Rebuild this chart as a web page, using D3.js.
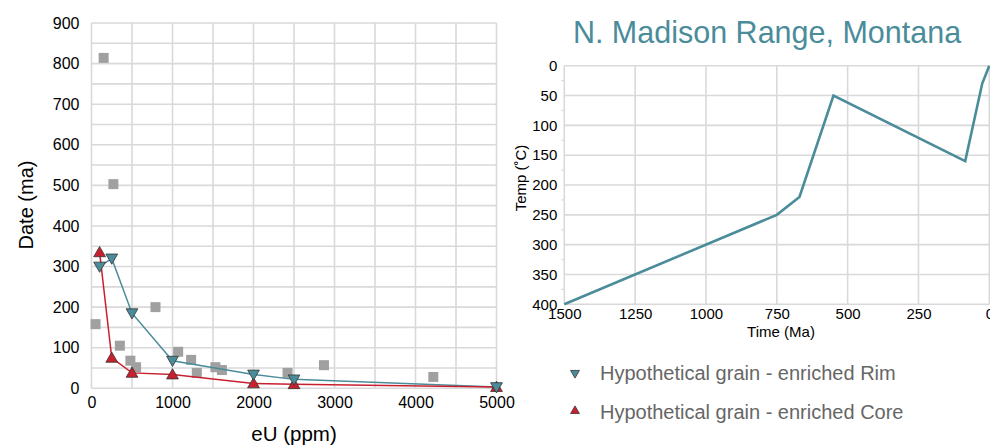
<!DOCTYPE html>
<html><head><meta charset="utf-8">
<script src="https://cdn.jsdelivr.net/npm/d3@7"></script>
<style>
html,body{margin:0;padding:0;background:#fff;}
svg{display:block;font-family:"Liberation Sans",Arial,sans-serif;}
</style></head>
<body>
<svg id="c" width="990" height="445"></svg>
<script>
// ---------- data ----------
const measuredEU   = [50, 150, 270, 350, 480, 550, 790, 1070, 1230, 1300, 1530, 1610, 2420, 2870, 4220];
const measuredDate = [158, 814, 503, 105, 68, 52, 200, 90, 70, 38, 52, 45, 38, 57, 28];
const rimEU   = [100, 250, 500, 1000, 2000, 2500, 5000];
const rimDate = [300, 320, 185, 68, 34, 22, 3];
const coreEU   = [100, 250, 500, 1000, 2000, 2500, 5000];
const coreDate = [335, 75, 38, 34, 12, 10, 3];
const leftXTicks = [0, 1000, 2000, 3000, 4000, 5000];
const leftYTicks = [0, 100, 200, 300, 400, 500, 600, 700, 800, 900];

const pathTime = [1500, 750, 670, 550, 85, 25, 0];
const pathTemp = [400, 250, 220, 50, 160, 30, 0];
const rightXTicks = [1500, 1250, 1000, 750, 500, 250, 0];
const rightYTicks = [0, 50, 100, 150, 200, 250, 300, 350, 400];

const titleText = "N. Madison Range, Montana";
const legendLabels = ["Hypothetical grain - enriched Rim", "Hypothetical grain - enriched Core"];

// ---------- styles ----------
const TEAL = "#4a8c9a", RED = "#c8202f", GRAY = "#a0a0a0", GRID = "#d9d9d9";
const FONT = "Liberation Sans, Arial, sans-serif";
const svg = d3.select("#c");

// ---------- left chart ----------
const lx = d3.scaleLinear().domain([0, 5000]).range([91.5, 496.5]);
const ly = d3.scaleLinear().domain([0, 900]).range([388.3, 23]);
const L = svg.append("g");

L.append("g").selectAll("line").data(d3.range(0, 5001, 500)).join("line")
  .attr("x1", d => lx(d)).attr("x2", d => lx(d)).attr("y1", ly(0)).attr("y2", ly(900))
  .attr("stroke", GRID).attr("stroke-width", 1.6);
L.append("g").selectAll("line").data(d3.range(0, 901, 50)).join("line")
  .attr("y1", d => ly(d)).attr("y2", d => ly(d)).attr("x1", lx(0)).attr("x2", lx(5000))
  .attr("stroke", GRID).attr("stroke-width", 1.6);

const lxAxis = L.append("g").attr("transform", `translate(0,${ly(0)})`)
  .call(d3.axisBottom(lx).tickValues(leftXTicks).tickSize(0).tickPadding(6).tickFormat(d3.format("d")));
lxAxis.select(".domain").remove();
lxAxis.selectAll("text").attr("font-size", 16).attr("fill", "#000").attr("dy", "0.85em")
  .attr("font-family", FONT);

const lyAxis = L.append("g").attr("transform", `translate(${lx(0)},0)`)
  .call(d3.axisLeft(ly).tickValues(leftYTicks).tickSize(0).tickPadding(12).tickFormat(d3.format("d")));
lyAxis.select(".domain").remove();
lyAxis.selectAll("text").attr("font-size", 16).attr("fill", "#000").attr("font-family", FONT);

L.append("text").attr("transform", `translate(33,205) rotate(-90)`).attr("text-anchor", "middle")
  .attr("font-size", 20).attr("fill", "#000").text("Date (ma)");
L.append("text").attr("x", 294).attr("y", 441).attr("text-anchor", "middle")
  .attr("font-size", 20.5).attr("fill", "#000").text("eU (ppm)");

// measured squares
L.append("g").selectAll("rect").data(measuredEU.map((e, i) => [e, measuredDate[i]])).join("rect")
  .attr("x", d => lx(d[0]) - 5).attr("y", d => ly(d[1]) - 5).attr("width", 10).attr("height", 10)
  .attr("fill", GRAY);

const line = d3.line().x(d => lx(d[0])).y(d => ly(d[1]));
const rim = rimEU.map((e, i) => [e, rimDate[i]]);
const core = coreEU.map((e, i) => [e, coreDate[i]]);
L.append("path").attr("d", line(rim)).attr("fill", "none").attr("stroke", TEAL).attr("stroke-width", 1.5);
L.append("path").attr("d", line(core)).attr("fill", "none").attr("stroke", RED).attr("stroke-width", 1.5);

const tri = d3.symbol().type(d3.symbolTriangle).size(60);
L.append("g").selectAll("path").data(core).join("path")
  .attr("d", tri).attr("transform", d => `translate(${lx(d[0])},${ly(d[1]) + 1})`)
  .attr("fill", RED).attr("stroke", "#333").attr("stroke-width", 0.8);
L.append("g").selectAll("path").data(rim).join("path")
  .attr("d", tri).attr("transform", d => `translate(${lx(d[0])},${ly(d[1]) - 1}) rotate(180)`)
  .attr("fill", TEAL).attr("stroke", "#333").attr("stroke-width", 0.8);

// ---------- right chart ----------
const rx = d3.scaleLinear().domain([1500, 0]).range([564.3, 989.3]);
const ry = d3.scaleLinear().domain([0, 400]).range([65.7, 304.3]);
const R = svg.append("g");

R.append("text").attr("x", 767).attr("y", 43).attr("text-anchor", "middle")
  .attr("font-size", 30.5).attr("fill", TEAL).text(titleText);

R.append("g").selectAll("line").data(rightXTicks).join("line")
  .attr("x1", d => rx(d)).attr("x2", d => rx(d)).attr("y1", ry(0)).attr("y2", ry(400))
  .attr("stroke", GRID).attr("stroke-width", 1.6);
R.append("g").selectAll("line").data(rightYTicks).join("line")
  .attr("y1", d => ry(d)).attr("y2", d => ry(d)).attr("x1", rx(1500)).attr("x2", rx(0))
  .attr("stroke", GRID).attr("stroke-width", 1.6);
// minor ticks
R.append("g").selectAll("line").data(d3.range(25, 400, 50)).join("line")
  .attr("y1", d => ry(d)).attr("y2", d => ry(d)).attr("x1", rx(1500) - 3).attr("x2", rx(1500))
  .attr("stroke", GRID).attr("stroke-width", 1.2);

const rxAxis = R.append("g").attr("transform", `translate(0,${ry(400)})`)
  .call(d3.axisBottom(rx).tickValues(rightXTicks).tickSize(0).tickPadding(3).tickFormat(d3.format("d")));
rxAxis.select(".domain").remove();
rxAxis.selectAll("text").attr("font-size", 15).attr("fill", "#000").attr("dy", "0.78em")
  .attr("font-family", FONT);

const ryAxis = R.append("g").attr("transform", `translate(${rx(1500)},0)`)
  .call(d3.axisLeft(ry).tickValues(rightYTicks).tickSize(0).tickPadding(7).tickFormat(d3.format("d")));
ryAxis.select(".domain").remove();
ryAxis.selectAll("text").attr("font-size", 15).attr("fill", "#000").attr("font-family", FONT);

R.append("text").attr("transform", `translate(526,178) rotate(-90)`).attr("text-anchor", "middle")
  .attr("font-size", 15).attr("fill", "#000").text("Temp (˚C)");
R.append("text").attr("x", 781).attr("y", 337).attr("text-anchor", "middle")
  .attr("font-size", 15).attr("fill", "#000").text("Time (Ma)");

const rline = d3.line().x(d => rx(d[0])).y(d => ry(d[1]));
R.append("path").attr("d", rline(pathTime.map((t, i) => [t, pathTemp[i]])))
  .attr("fill", "none").attr("stroke", TEAL).attr("stroke-width", 2.6).attr("stroke-linejoin", "miter");

// ---------- legend ----------
const ltri = d3.symbol().type(d3.symbolTriangle).size(34);
const lg = svg.append("g");
lg.append("path").attr("d", ltri).attr("transform", "translate(575,373) rotate(180)")
  .attr("fill", TEAL).attr("stroke", "#333").attr("stroke-width", 0.8);
lg.append("path").attr("d", ltri).attr("transform", "translate(575,411)")
  .attr("fill", RED).attr("stroke", "#333").attr("stroke-width", 0.8);
lg.selectAll("text").data(legendLabels).join("text")
  .attr("x", 600).attr("y", (d, i) => 380 + i * 39)
  .attr("font-size", 20).attr("fill", "#666").text(d => d);
</script>
</body></html>
